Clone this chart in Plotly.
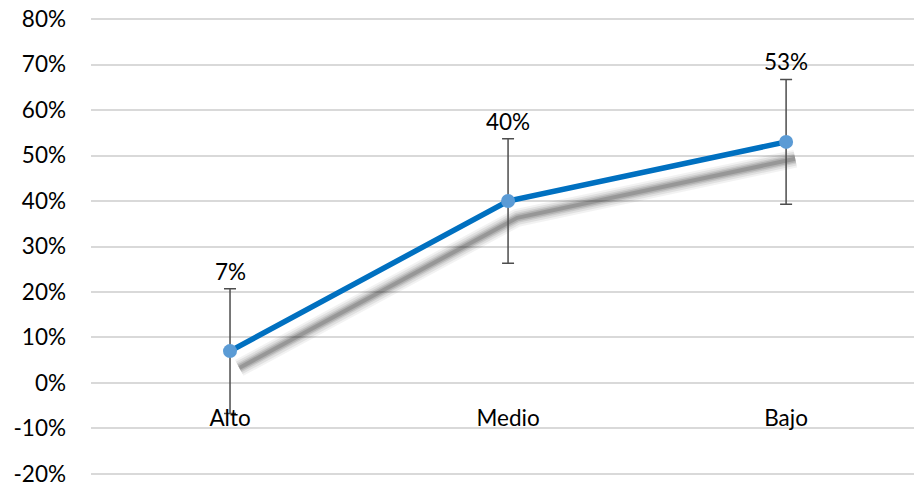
import plotly.graph_objects as go

categories = ["Alto", "Medio", "Bajo"]
values = [0.07, 0.40, 0.53]
errors = [0.137, 0.137, 0.137]
value_labels = ["7%", "40%", "53%"]
y_tickvals = [-0.2, -0.1, 0, 0.1, 0.2, 0.3, 0.4, 0.5, 0.6, 0.7, 0.8]
y_ticktext = ["-20%", "-10%", "0%", "10%", "20%", "30%", "40%", "50%", "60%", "70%", "80%"]

xs = list(range(len(categories)))
FONT = "Lato, 'Open Sans', sans-serif"
FS = 22.5

fig = go.Figure()

# soft shadow of the line (offset down-right, blurred via stacked translucent strokes)
shadow_dx = 0.033
shadow_dy = -0.037
sx = [x + shadow_dx for x in xs]
sy = [v + shadow_dy for v in values]
for w, a in [(18, 0.05), (14, 0.07), (10, 0.09), (7, 0.12), (4, 0.15)]:
    fig.add_trace(go.Scatter(
        x=sx, y=sy, mode="lines",
        line=dict(color=f"rgba(0,0,0,{a})", width=w),
        hoverinfo="skip", showlegend=False,
    ))

fig.add_trace(go.Scatter(
    x=xs, y=values, mode="lines+markers",
    line=dict(color="#0070C0", width=5.5),
    marker=dict(color="#5B9BD5", size=14),
    error_y=dict(type="data", array=errors, visible=True,
                 color="#4D4D4D", thickness=1.5, width=6),
    showlegend=False,
))

for x, v, t in zip(xs, values, value_labels):
    fig.add_annotation(x=x, y=v, text=t, showarrow=False, yshift=80,
                       yanchor="middle", font=dict(family=FONT, size=FS, color="#000000"))

fig.update_layout(
    width=914, height=486,
    margin=dict(l=91, r=0, t=10, b=3, autoexpand=False),
    paper_bgcolor="white", plot_bgcolor="white",
    font=dict(family=FONT, size=FS, color="#000000"),
    xaxis=dict(
        range=[-0.5, 2.46], tickvals=xs, ticktext=categories,
        showgrid=False, zeroline=False, showline=False, automargin=False,
        anchor="free", position=(0 + 0.22) / 1.04, ticks="", ticklabelstandoff=20,
        tickfont=dict(family=FONT, size=FS, color="#000000"),
    ),
    yaxis=dict(
        range=[-0.22, 0.82], tickvals=y_tickvals, ticktext=y_ticktext,
        showgrid=True, gridcolor="#D9D9D9", gridwidth=1.5, automargin=False,
        zeroline=False, showline=False, ticks="", ticklabelstandoff=24,
        ticklabeloverflow="allow",
        tickfont=dict(family=FONT, size=FS, color="#000000"),
    ),
)

fig.write_html(
    "out.html",
    config={"displayModeBar": False},
    post_script="document.body.style.margin='0';document.body.style.overflow='hidden';",
)
